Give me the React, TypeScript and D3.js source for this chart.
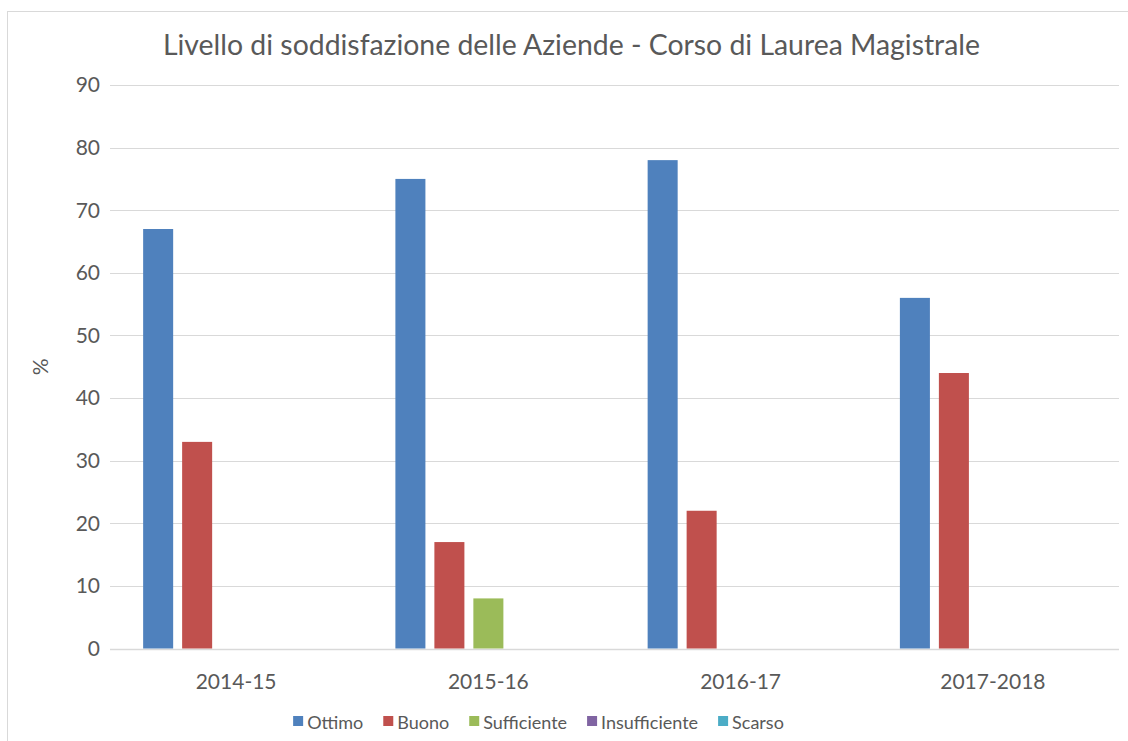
import React, { useEffect, useRef } from "react";
import * as d3 from "d3";

const categories = ["2014-15", "2015-16", "2016-17", "2017-2018"];
const seriesNames = ["Ottimo", "Buono", "Sufficiente", "Insufficiente", "Scarso"];
const seriesColors = ["#4F81BD", "#C0504D", "#9BBB59", "#8064A2", "#4BACC6"];
const ottimo = [67, 75, 78, 56];
const buono = [33, 17, 22, 44];
const sufficiente = [0, 8, 0, 0];
const insufficiente = [0, 0, 0, 0];
const scarso = [0, 0, 0, 0];
const yTicks = [0, 10, 20, 30, 40, 50, 60, 70, 80, 90];
const title = "Livello di soddisfazione delle Aziende - Corso di Laurea Magistrale";

const W = 1128;
const H = 741;
const FONT = "Lato, 'Open Sans', sans-serif";
const TXT = "#595959";

export default function App() {
  const ref = useRef<SVGSVGElement>(null);
  useEffect(() => {
    const svg = d3.select(ref.current);
    svg.selectAll("*").remove();
    const values = [ottimo, buono, sufficiente, insufficiente, scarso];

    const left = 110, right = 1119, top = 85, bottom = 648.5;
    const x0 = d3.scaleBand<string>().domain(categories).range([left, right]).padding(0);
    const x1 = d3.scaleBand<string>().domain(seriesNames).range([0, x0.bandwidth()]).paddingInner(0.23).paddingOuter(0.85);
    const y = d3.scaleLinear().domain([0, 90]).range([bottom, top]);

    svg.append("rect").attr("x", 7.5).attr("y", 11.5).attr("width", W + 10).attr("height", H + 10)
      .attr("fill", "white").attr("stroke", "#D9D9D9").attr("stroke-width", 1);

    svg.append("text").attr("x", 571.5).attr("y", 55).attr("text-anchor", "middle")
      .attr("font-family", FONT).attr("font-size", 28.4).attr("fill", TXT).text(title);

    const g = svg.append("g");
    g.selectAll("line.grid").data(yTicks).join("line")
      .attr("x1", left).attr("x2", right)
      .attr("y1", d => Math.round(y(d)) + 0.5).attr("y2", d => Math.round(y(d)) + 0.5)
      .attr("stroke", "#D9D9D9").attr("stroke-width", d => (d === 0 ? 1.5 : 1));

    g.selectAll("text.ytick").data(yTicks).join("text")
      .attr("x", 100).attr("y", d => y(d)).attr("dy", "0.35em").attr("text-anchor", "end")
      .attr("font-family", FONT).attr("font-size", 21).attr("fill", TXT).text(d => String(d));

    svg.append("text").attr("transform", `translate(48,${(top + bottom) / 2}) rotate(-90)`)
      .attr("text-anchor", "middle").attr("font-family", FONT).attr("font-size", 21).attr("fill", TXT).text("%");

    categories.forEach((c, ci) => {
      seriesNames.forEach((s, si) => {
        const v = values[si][ci];
        if (!v) return;
        svg.append("rect").attr("x", (x0(c) as number) + (x1(s) as number)).attr("width", x1.bandwidth())
          .attr("y", y(v)).attr("height", y(0) - y(v)).attr("fill", seriesColors[si]);
      });
      svg.append("text").attr("x", (x0(c) as number) + x0.bandwidth() / 2).attr("y", 689)
        .attr("text-anchor", "middle").attr("font-family", FONT).attr("font-size", 21).attr("fill", TXT).text(c);
    });

    // legend
    const lg = svg.append("g");
    let cx = 0;
    seriesNames.forEach((s, i) => {
      const t = lg.append("text").attr("y", 729).attr("font-family", FONT).attr("font-size", 18).attr("fill", TXT).text(s);
      const w = (t.node() as SVGTextElement).getComputedTextLength();
      lg.append("rect").attr("x", cx).attr("y", 716).attr("width", 10).attr("height", 10).attr("fill", seriesColors[i]);
      t.attr("x", cx + 14);
      cx += 14 + w + 20;
    });
    const total = cx - 20;
    lg.attr("transform", `translate(${538.5 - total / 2},0)`);
  }, []);
  return (
    <svg ref={ref} width={W} height={H} style={{ position: "absolute", left: 0, top: 0, background: "white" }} />
  );
}
